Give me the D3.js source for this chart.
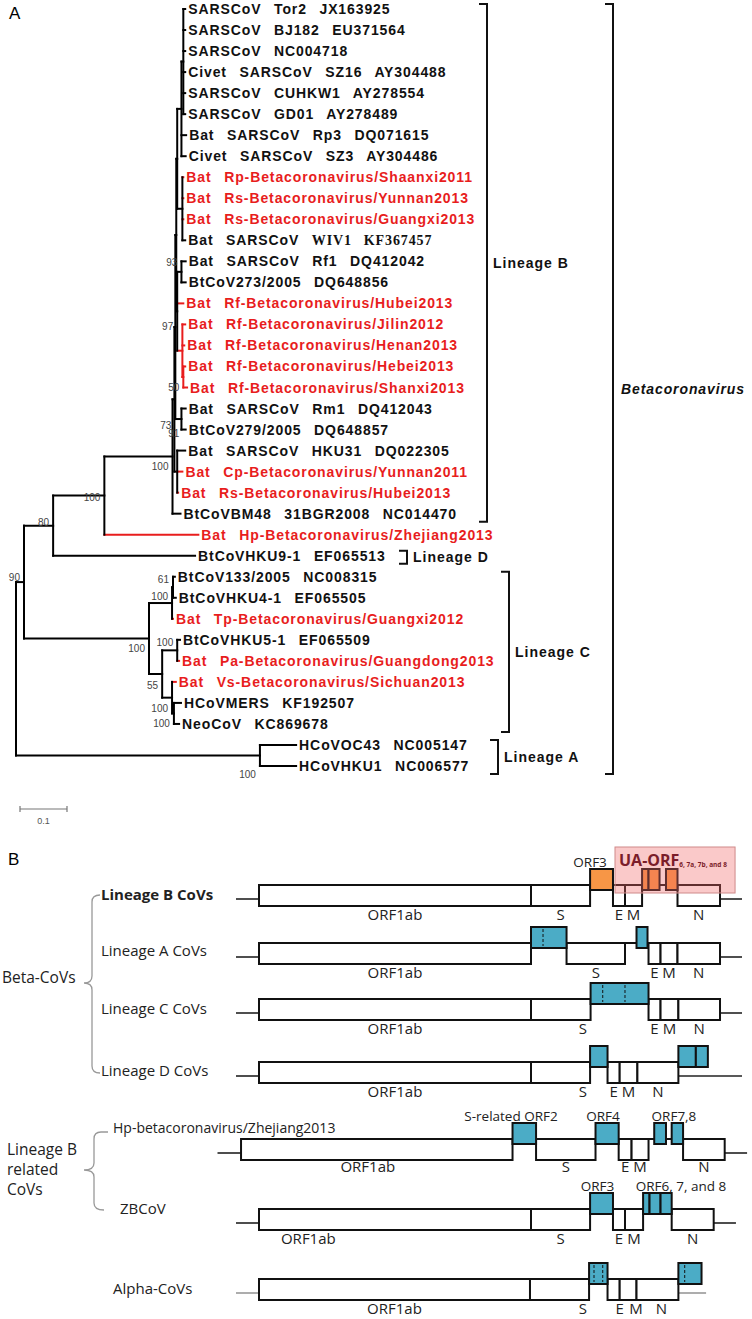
<!DOCTYPE html>
<html>
<head>
<meta charset="utf-8">
<title>Betacoronavirus phylogeny and genome organisation</title>
<script src="https://cdn.jsdelivr.net/npm/d3@7"></script>
<style>
  body { margin: 0; background: #fff; }
  svg { display: block; }
  text { white-space: pre; }
</style>
</head>
<body>
<svg id="figure" width="752" height="1319"></svg>
<script>
// ---------------- Panel A data ----------------
// leaf labels, top to bottom ("|" marks the part set in a serif face)
const taxa = [
  "SARSCoV  Tor2  JX163925",
  "SARSCoV  BJ182  EU371564",
  "SARSCoV  NC004718",
  "Civet  SARSCoV  SZ16  AY304488",
  "SARSCoV  CUHKW1  AY278554",
  "SARSCoV  GD01  AY278489",
  "Bat  SARSCoV  Rp3  DQ071615",
  "Civet  SARSCoV  SZ3  AY304486",
  "Bat  Rp-Betacoronavirus/Shaanxi2011",
  "Bat  Rs-Betacoronavirus/Yunnan2013",
  "Bat  Rs-Betacoronavirus/Guangxi2013",
  "Bat  SARSCoV  |WIV1  KF367457",
  "Bat  SARSCoV  Rf1  DQ412042",
  "BtCoV273/2005  DQ648856",
  "Bat  Rf-Betacoronavirus/Hubei2013",
  "Bat  Rf-Betacoronavirus/Jilin2012",
  "Bat  Rf-Betacoronavirus/Henan2013",
  "Bat  Rf-Betacoronavirus/Hebei2013",
  "Bat  Rf-Betacoronavirus/Shanxi2013",
  "Bat  SARSCoV  Rm1  DQ412043",
  "BtCoV279/2005  DQ648857",
  "Bat  SARSCoV  HKU31  DQ022305",
  "Bat  Cp-Betacoronavirus/Yunnan2011",
  "Bat  Rs-Betacoronavirus/Hubei2013",
  "BtCoVBM48  31BGR2008  NC014470",
  "Bat  Hp-Betacoronavirus/Zhejiang2013",
  "BtCoVHKU9-1  EF065513",
  "BtCoV133/2005  NC008315",
  "BtCoVHKU4-1  EF065505",
  "Bat  Tp-Betacoronavirus/Guangxi2012",
  "BtCoVHKU5-1  EF065509",
  "Bat  Pa-Betacoronavirus/Guangdong2013",
  "Bat  Vs-Betacoronavirus/Sichuan2013",
  "HCoVMERS  KF192507",
  "NeoCoV  KC869678",
  "HCoVOC43  NC005147",
  "HCoVHKU1  NC006577"
];

// viruses found in this study (drawn in red)
const novelTaxa = [8, 9, 10, 14, 15, 16, 17, 18, 22, 23, 25, 29, 31, 32];
const redClades = ["rfR", "rfHS"];

// [node, parent, branch length]; leaves are t<index in taxa>
const branches = [
  ["root", null, 0],
  ["n90", "root", 0.017],
  ["n80", "n90", 0.062],
  ["n100", "n80", 0.109],
  ["linB", "n100", 0.145],
  ["b1", "linB", 0.004],
  ["b2", "b1", 0.002],
  ["b3", "b2", 0.002],
  ["s0", "b3", 0.002],
  ["s1", "s0", 0.009],
  ["sa", "s1", 0.004],
  ["t0", "sa", 0.004], ["t1", "sa", 0.004], ["t2", "sa", 0.004],
  ["t3", "sa", 0.004], ["t4", "sa", 0.004], ["t5", "sa", 0.004],
  ["t6", "s1", 0.010], ["t7", "s1", 0.009],
  ["s2", "s0", 0.011],
  ["t8", "s2", 0.002], ["t9", "s2", 0.002], ["t10", "s2", 0.002], ["t11", "s2", 0.006],
  ["rf", "b3", 0.002],
  ["rfA", "rf", 0.009],
  ["t12", "rfA", 0.009], ["t13", "rfA", 0.009],
  ["t14", "rf", 0.013],
  ["rfR", "rf", 0.011],
  ["t15", "rfR", 0.006], ["t16", "rfR", 0.004],
  ["rfHS", "rfR", 0.002],
  ["t17", "rfHS", 0.004], ["t18", "rfHS", 0.008],
  ["rm", "b2", 0.013],
  ["t19", "rm", 0.009], ["t20", "rm", 0.009],
  ["c3", "b1", 0.006],
  ["t21", "c3", 0.017], ["t22", "c3", 0.011], ["t23", "c3", 0.002],
  ["t24", "linB", 0.017],
  ["t25", "n100", 0.200],
  ["t26", "n80", 0.302],
  ["linC", "n90", 0.266],
  ["c1", "linC", 0.049],
  ["c61", "c1", 0.002],
  ["t27", "c61", 0.004], ["t28", "c61", 0.006],
  ["t29", "c1", 0.002],
  ["c55", "linC", 0.028],
  ["c5", "c55", 0.032],
  ["t30", "c5", 0.006], ["t31", "c5", 0.004],
  ["cv", "c55", 0.021],
  ["t32", "cv", 0.008],
  ["mn", "cv", 0.004],
  ["t33", "mn", 0.015], ["t34", "mn", 0.011],
  ["linA", "root", 0.519],
  ["t35", "linA", 0.077], ["t36", "linA", 0.077]
];

// bootstrap values
const support = [
  ["n90", 90], ["n80", 80], ["n100", 100], ["linB", 100], ["rfA", 93], ["rf", 97],
  ["rfHS", 50], ["b2", 73], ["rm", 91], ["linC", 100], ["c61", 61], ["c1", 100],
  ["c5", 100], ["c55", 55], ["cv", 100], ["mn", 100], ["linA", 100]
];

// clade brackets: [name, first leaf, last leaf]
const clades = [["Lineage B", 0, 24], ["Lineage D", 26, 26], ["Lineage C", 27, 34], ["Lineage A", 35, 36]];
const genus = ["Betacoronavirus", 0, 36];

// ---------------- Panel B data ----------------
// gene tuples: [name, start, end, kind (g = gene box, a = accessory ORF), label position, dashed dividers]
const geneLinB = [
  ["ORF1ab", 0, 21.5, "g"], ["S", 21.5, 26.17, "g"], ["", 26.17, 27.98, "a"],
  ["E", 27.98, 28.93, "g"], ["M", 28.93, 30.28, "g"], ["", 30.28, 30.79, "a"],
  ["", 30.79, 31.66, "a"], ["", 32.17, 33.08, "a"], ["N", 33.08, 36.44, "g"]
];
const geneLinA = [
  ["ORF1ab", 0, 21.5, "g"], ["", 21.5, 24.31, "a", null, [22.45]], ["S", 24.31, 28.93, "g"],
  ["", 29.84, 30.71, "a"], ["E", 30.79, 31.74, "g"], ["M", 31.74, 33.08, "g"], ["N", 33.08, 36.44, "g"]
];
const geneLinC = [
  ["ORF1ab", 0, 21.5, "g"], ["S", 21.5, 26.21, "g", 25.6], ["", 26.21, 30.79, "a", null, [27.17, 28.93]],
  ["E", 30.79, 31.74, "g"], ["M", 31.74, 33.15, "g"], ["N", 33.15, 36.44, "g"]
];
const geneLinD = [
  ["ORF1ab", 0, 21.5, "g"], ["S", 21.5, 26.17, "g", 25.6], ["", 26.17, 27.55, "a"],
  ["E", 27.55, 28.51, "g"], ["M", 28.51, 29.91, "g"], ["N", 29.91, 33.15, "g"],
  ["", 33.15, 34.53, "a"], ["", 34.53, 35.48, "a"]
];
const geneHp = [
  ["ORF1ab", -1.42, 20.04, "g", 8.6], ["", 20.04, 21.9, "a"], ["S", 21.9, 26.6, "g"],
  ["", 26.6, 28.43, "a"], ["E", 28.43, 29.45, "g"], ["M", 29.45, 30.79, "g"],
  ["", 31.24, 32.17, "a"], ["", 32.62, 33.52, "a"], ["N", 33.52, 36.81, "g"]
];
const geneZB = [
  ["ORF1ab", 0, 21.5, "g", 3.9], ["S", 21.5, 26.17, "g"], ["", 26.17, 27.98, "a"],
  ["E", 27.98, 28.93, "g"], ["M", 28.93, 30.36, "g"], ["", 30.36, 30.87, "a"],
  ["", 30.87, 31.74, "a"], ["", 31.74, 32.62, "a"], ["N", 32.62, 35.94, "g"]
];
const geneAlpha = [
  ["ORF1ab", 0, 21.42, "g"], ["S", 21.42, 26.09, "g", 25.6], ["", 26.09, 27.55, "a", null, [26.48, 27.17]],
  ["E", 27.55, 28.51, "g", 28.5], ["M", 28.51, 29.84, "g", 29.8], ["N", 29.84, 33.15, "g", 31.8],
  ["", 33.15, 34.98, "a", null, [33.65]]
];
const genomes = [geneLinB, geneLinA, geneLinC, geneLinD, geneHp, geneZB, geneAlpha];
const genomeNames = ["Lineage B CoVs", "Lineage A CoVs", "Lineage C CoVs", "Lineage D CoVs",
  "Hp-betacoronavirus/Zhejiang2013", "ZBCoV", "Alpha-CoVs"];
// untranslated flanks: [5' start, 3' start, 3' end]
const flanks = [
  [-1.82, 36.44, 38.18], [-1.82, 36.44, 38.18], [-1.82, 36.44, 38.18], [-1.82, 33.15, 38.18],
  [-3.28, 36.81, 38.58], [-1.82, 35.94, 37.7], [-1.82, 33.15, 35.34]
];
// labels above accessory ORFs: [genome, text, centre]
const accLabels = [
  [0, "ORF3", 26.17], [4, "S-related ORF2", 19.92], [4, "ORF4", 27.19], [4, "ORF7,8", 32.8],
  [5, "ORF3", 26.76], [5, "ORF6, 7, and 8", 33.36]
];
const uaRegion = [28.14, 37.63];

// ---------------- layout ----------------
const svg = d3.select("#figure");
const SANS = "'Liberation Sans', Arial, Helvetica, sans-serif";
const SERIF = "'Liberation Serif', 'Times New Roman', serif";
const BODY = "'Open Sans', 'Noto Sans', sans-serif";
const RED = "#e81d1d";
const CYAN = "#4bacc6";
const ORANGE = "#f79646";

svg.append("text").attr("x", 9).attr("y", 19)
  .attr("font-family", SANS).attr("font-size", 17).text("A");

const x = d3.scaleLinear().domain([0, 0.1]).range([16, 63]);
const y = d3.scalePoint().domain(d3.range(taxa.length)).range([9, 766]);

const tree = d3.stratify().id(d => d[0]).parentId(d => d[1])(branches);
const redSet = new Set(novelTaxa.map(i => "t" + i).concat(redClades));
tree.eachBefore(n => {
  n.dist = n.parent ? n.parent.dist + n.data[2] : 0;
  n.px = x(n.dist);
});
tree.eachAfter(n => {
  n.py = n.children
    ? (n.children[0].py + n.children[n.children.length - 1].py) / 2
    : y(+n.id.slice(1));
});
const nodeById = new Map(tree.descendants().map(n => [n.id, n]));

const gTree = svg.append("g")
  .attr("stroke-width", 2)
  .attr("stroke-linecap", "square");

gTree.selectAll(".h")
  .data(tree.descendants().filter(n => n.parent))
  .join("line")
    .attr("class", "h")
    .attr("x1", n => n.parent.px).attr("x2", n => n.px)
    .attr("y1", n => n.py).attr("y2", n => n.py)
    .attr("stroke", n => redSet.has(n.id) ? RED : "#000");

gTree.selectAll(".v")
  .data(tree.descendants().filter(n => n.children))
  .join("line")
    .attr("class", "v")
    .attr("x1", n => n.px).attr("x2", n => n.px)
    .attr("y1", n => n.children[0].py)
    .attr("y2", n => n.children[n.children.length - 1].py)
    .attr("stroke", n => redSet.has(n.id) ? RED : "#000");

svg.append("g")
    .attr("font-family", SANS)
    .attr("font-weight", "bold")
    .attr("font-size", 14)
    .attr("letter-spacing", 0.9)
    .attr("word-spacing", 1.5)
  .selectAll("text")
  .data(tree.leaves())
  .join("text")
    .attr("x", n => n.px + 3)
    .attr("y", n => n.py + 5)
    .attr("fill", n => redSet.has(n.id) ? RED : "#111")
    .each(function (n) {
      const [plain, serif] = taxa[+n.id.slice(1)].split("|");
      const t = d3.select(this);
      t.append("tspan").text(plain);
      if (serif) t.append("tspan").attr("font-family", SERIF).text(serif);
    });

// baseline offsets of the bootstrap numbers relative to their node
const supportDy = {
  n90: -1.5, n80: 0.5, n100: 5, linB: 14, rfA: -6, rf: 18.6, rfHS: 14, b2: 102, rm: 18,
  linC: 13.5, c61: -4, c1: -3.5, c5: -4, c55: 14.5, cv: 14, mn: 14, linA: 23
};
svg.append("g")
    .attr("font-family", SANS)
    .attr("font-size", 10)
    .attr("fill", "#444")
    .attr("text-anchor", "end")
  .selectAll("text")
  .data(support)
  .join("text")
    .attr("x", d => nodeById.get(d[0]).px - (d[0] === "rm" ? 2 : 4))
    .attr("y", d => nodeById.get(d[0]).py + (supportDy[d[0]] ?? -4))
    .text(d => d[1]);

// clade brackets
const bracketX = { "Lineage B": 487, "Lineage D": 407, "Lineage C": 509, "Lineage A": 498, "Betacoronavirus": 613 };
const gBr = svg.append("g");
[...clades, genus].forEach(([name, i0, i1]) => {
  const bx = bracketX[name];
  const y0 = y(i0) - 5, y1 = y(i1) + 8;
  const italic = name === genus[0];
  gBr.append("path")
    .attr("d", `M${bx - 8},${y0}H${bx}V${y1}H${bx - 8}`)
    .attr("fill", "none").attr("stroke", "#111").attr("stroke-width", 2);
  gBr.append("text")
    .attr("x", bx + (italic ? 8 : 6))
    .attr("y", (y0 + y1) / 2 + 5)
    .attr("font-family", SANS).attr("font-weight", "bold")
    .attr("font-style", italic ? "italic" : null)
    .attr("font-size", 14).attr("letter-spacing", italic ? 0.9 : 1)
    .attr("fill", "#111")
    .text(name);
});

// scale bar
const sb = svg.append("g").attr("stroke", "#777").attr("stroke-width", 1.2);
const sbx0 = 20, sbx1 = sbx0 + x(0.1) - x(0), sby = 809;
sb.append("line").attr("x1", sbx0).attr("x2", sbx1).attr("y1", sby).attr("y2", sby);
sb.append("line").attr("x1", sbx0).attr("x2", sbx0).attr("y1", sby - 3).attr("y2", sby + 3);
sb.append("line").attr("x1", sbx1).attr("x2", sbx1).attr("y1", sby - 3).attr("y2", sby + 3);
svg.append("text").attr("x", (sbx0 + sbx1) / 2).attr("y", 824)
  .attr("text-anchor", "middle").attr("font-family", SANS).attr("font-size", 9)
  .attr("fill", "#555").text("0.1");

// ---------------- Panel B ----------------
svg.append("text").attr("x", 8).attr("y", 865)
  .attr("font-family", SANS).attr("font-size", 17).text("B");

const gx = d3.scaleLinear().domain([0, 21.5]).range([259, 531]);
const rowTop = [885, 943, 999, 1062, 1139, 1209, 1279];
const BOX_H = 21, RAISE = 16, BACK = 14;
const rowLabelX = [101, 101, 101, 101, 113, 120, 113];
const rowLabelDy = [15, 13, 15, 14, -6, 5, 15];

const gB = svg.append("g").attr("font-family", BODY);

genomes.forEach((genes, r) => {
  const top = rowTop[r];
  const g = gB.append("g");
  const [f0, f1, f2] = flanks[r];
  const first = genes[0][1];
  const last = d3.max(genes, d => d[2]);
  const accent = r === 0 ? ORANGE : CYAN;
  const flankColor = r === 6 ? "#999" : "#222";

  g.append("line").attr("x1", gx(f0)).attr("x2", gx(first))
    .attr("y1", top + BACK).attr("y2", top + BACK)
    .attr("stroke", flankColor).attr("stroke-width", 1.6);
  g.append("line").attr("x1", gx(f1)).attr("x2", gx(f2))
    .attr("y1", top + BACK).attr("y2", top + BACK)
    .attr("stroke", flankColor).attr("stroke-width", 1.6);
  g.append("line").attr("x1", gx(first)).attr("x2", gx(last))
    .attr("y1", top).attr("y2", top)
    .attr("stroke", "#111").attr("stroke-width", 2);

  g.selectAll(".gene")
    .data(genes.filter(d => d[3] === "g"))
    .join("rect")
      .attr("class", "gene")
      .attr("x", d => gx(d[1])).attr("width", d => gx(d[2]) - gx(d[1]))
      .attr("y", top).attr("height", BOX_H)
      .attr("fill", "#fff").attr("stroke", "#111").attr("stroke-width", 2);

  const acc = genes.filter(d => d[3] === "a");
  g.selectAll(".acc")
    .data(acc)
    .join("rect")
      .attr("class", "acc")
      .attr("x", d => gx(d[1])).attr("width", d => gx(d[2]) - gx(d[1]))
      .attr("y", top - RAISE).attr("height", BOX_H)
      .attr("fill", accent).attr("stroke", "#111").attr("stroke-width", 2);

  acc.filter(d => d[5]).forEach(d => {
    d[5].forEach(p => {
      g.append("line").attr("x1", gx(p)).attr("x2", gx(p))
        .attr("y1", top - RAISE + 2).attr("y2", top - RAISE + BOX_H - 2)
        .attr("stroke", "#111").attr("stroke-width", 1).attr("stroke-dasharray", "3,2");
    });
  });

  g.selectAll(".glab")
    .data(genes.filter(d => d[3] === "g"))
    .join("text")
      .attr("class", "glab")
      .attr("x", d => gx(d[4] ?? (d[1] + d[2]) / 2))
      .attr("y", top + BOX_H + (r === 4 ? 12 : 14))
      .attr("text-anchor", "middle")
      .attr("font-size", 15)
      .attr("fill", "#222")
      .text(d => d[0]);

  g.append("text")
    .attr("x", rowLabelX[r]).attr("y", top + rowLabelDy[r])
    .attr("font-size", r === 4 ? 14 : 15)
    .attr("font-weight", r === 0 ? "bold" : null)
    .attr("fill", "#222")
    .text(genomeNames[r]);
});

// accessory ORF labels
gB.append("g").selectAll("text")
  .data(accLabels)
  .join("text")
    .attr("x", d => gx(d[2]))
    .attr("y", d => rowTop[d[0]] - RAISE - 2)
    .attr("text-anchor", "middle")
    .attr("font-size", 13.5)
    .attr("fill", "#222")
    .text(d => d[1]);

// unique accessory ORFs of lineage B
const uaTop = rowTop[0] - 38;
gB.append("rect")
  .attr("x", gx(uaRegion[0])).attr("width", gx(uaRegion[1]) - gx(uaRegion[0]))
  .attr("y", uaTop).attr("height", 46)
  .attr("fill", "rgba(240,100,100,0.35)").attr("stroke", "#cf8a8a").attr("stroke-width", 1);
const ua = gB.append("text")
  .attr("x", gx(uaRegion[0]) + 4).attr("y", rowTop[0] - RAISE - 3)
  .attr("font-weight", "bold").attr("fill", "#7b1d2a");
ua.append("tspan").attr("font-size", 16).text("UA-ORF");
ua.append("tspan").attr("font-size", 6.5).attr("dy", 1).text("6, 7a, 7b, and 8");

// grouping braces
const gGrp = gB.append("g").attr("fill", "#222").attr("font-size", 15.5);
gGrp.append("text").attr("x", 2).attr("y", 983).text("Beta-CoVs");
gGrp.append("path")
  .attr("d", "M100,895 Q92,895 92,902 L92,976 Q92,983 84,983 Q92,983 92,990 L92,1066 Q92,1073 100,1073")
  .attr("fill", "none").attr("stroke", "#999").attr("stroke-width", 1.3);
["Lineage B", "related", "CoVs"].forEach((t, i) => {
  gGrp.append("text").attr("x", 7).attr("y", 1155 + i * 20).text(t);
});
gGrp.append("path")
  .attr("d", "M108,1132 L101,1132 Q94,1132 94,1139 L94,1163 Q94,1170 84,1170 Q94,1170 94,1177 L94,1203 Q94,1210 104,1210")
  .attr("fill", "none").attr("stroke", "#999").attr("stroke-width", 1.3);
</script>
</body>
</html>
